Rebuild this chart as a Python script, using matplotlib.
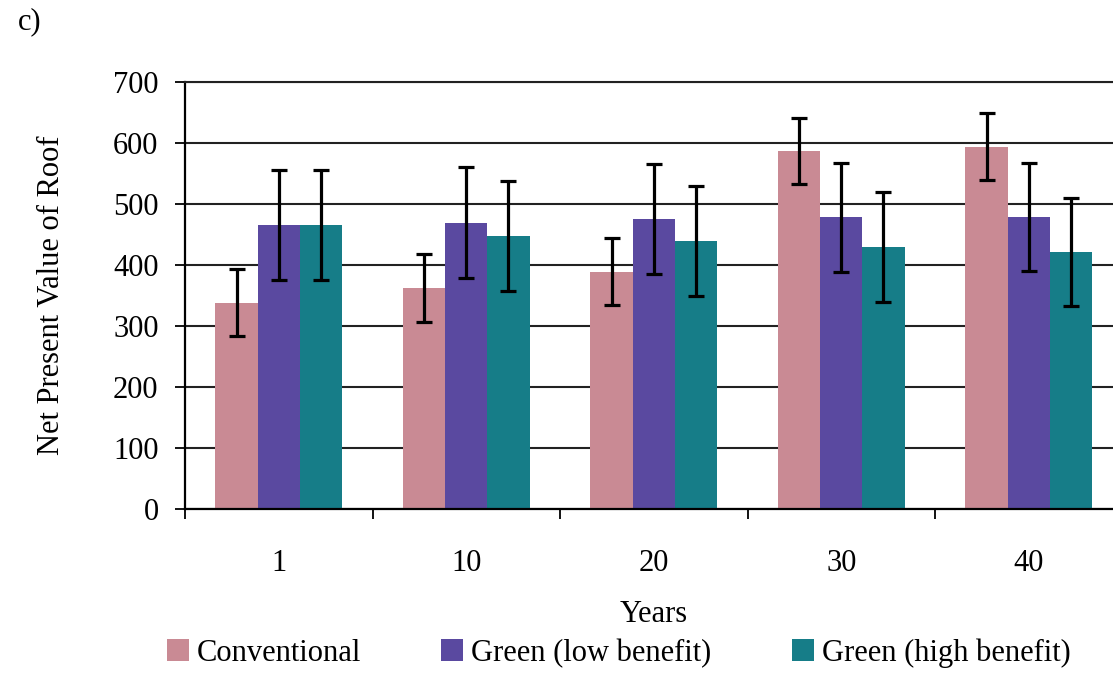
import matplotlib
matplotlib.use("Agg")
import matplotlib.pyplot as plt
from matplotlib.ticker import MultipleLocator, FixedLocator
import numpy as np

years = ["1", "10", "20", "30", "40"]
series_names = ["Conventional", "Green (low benefit)", "Green (high benefit)"]
conventional = [338, 362, 389, 587, 594]
green_low = [465, 469, 476, 478, 479]
green_high = [465, 448, 439, 429, 421]
err_conventional = [55, 56, 55, 54, 55]
err_green_low = [90, 91, 90, 90, 89]
err_green_high = [90, 90, 90, 90, 89]

colors = ["#c98a94", "#5a49a0", "#167d88"]

plt.rcParams["font.family"] = ["Liberation Serif", "DejaVu Serif"]
FS = 22

fig = plt.figure(figsize=(11.13, 6.77), dpi=100)
W, H = 1113, 677
left_px, right_px = 185, 1122.5
top_px, bot_px = 82, 509
ax = fig.add_axes([left_px / W, 1 - bot_px / H, (right_px - left_px) / W, (bot_px - top_px) / H])

x = np.arange(len(years))
bw = 0.225
data = [conventional, green_low, green_high]
errs = [err_conventional, err_green_low, err_green_high]
for i, (vals, e) in enumerate(zip(data, errs)):
    pos = x + (i - 1) * bw
    ax.bar(pos, vals, width=bw, color=colors[i], label=series_names[i], zorder=2)
    ax.errorbar(pos, vals, yerr=e, fmt="none", ecolor="black", elinewidth=2.3,
                capsize=6, capthick=2.3, zorder=3)

ax.set_xlim(-0.5, len(years) - 0.5)
ax.set_ylim(0, 700)
ax.yaxis.set_major_locator(MultipleLocator(100))
ax.grid(axis="y", color="#222222", linewidth=1.5, zorder=0)
ax.set_axisbelow(True)

ax.set_xticks(x)
ax.set_xticklabels(years, fontsize=FS)
ax.xaxis.set_minor_locator(FixedLocator(np.arange(-0.5, len(years), 1.0)))
ax.tick_params(axis="x", which="major", length=0, pad=29)
ax.tick_params(axis="x", which="minor", length=7, width=1.3, direction="out")
ax.tick_params(axis="y", which="major", length=7, width=1.3, direction="out",
               labelsize=FS, pad=12)

for s in ["left", "bottom"]:
    ax.spines[s].set_linewidth(1.6)
    ax.spines[s].set_color("black")
ax.spines["right"].set_visible(False)
ax.spines["top"].set_color("#222222")
ax.spines["top"].set_linewidth(1.5)

ax.set_xlabel("Years", fontsize=FS, labelpad=16)
ax.set_ylabel("Net Present Value of Roof", fontsize=FS, labelpad=34)

fig.text(18 / W, 1 - 22 / H, "c)", fontsize=FS, ha="left", va="center")

fs_px = FS * 100 / 72
leg = fig.legend(loc="center left", bbox_to_anchor=(167 / W, 1 - 653 / H), ncol=3,
                 frameon=False, fontsize=FS, borderpad=0, borderaxespad=0,
                 handlelength=22 / fs_px, handleheight=22 / fs_px,
                 handletextpad=8 / fs_px, columnspacing=80 / fs_px)

fig.savefig("out.png", dpi=100)
